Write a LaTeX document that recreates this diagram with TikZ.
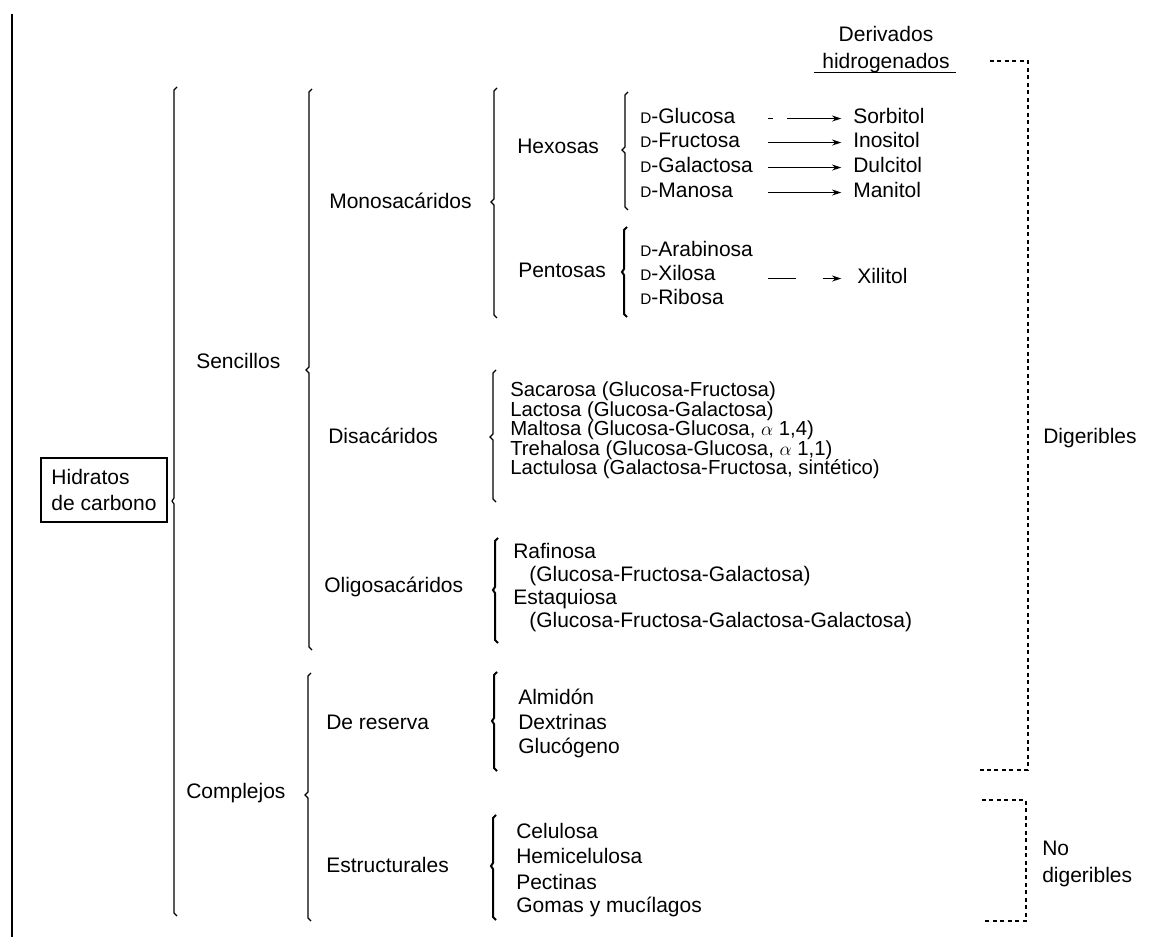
\documentclass[tikz,border=0pt]{standalone}
\usepackage{fontspec}
\setmainfont{Liberation Sans}
\usetikzlibrary{arrows.meta}
\newcommand{\smallD}{{\fontsize{11.5pt}{12pt}\selectfont D}}
\tikzset{
  txt/.style={anchor=base west, inner sep=0.75pt, text height=11.5pt, text depth=3.3pt, font=\fontsize{15.75pt}{19pt}\selectfont},
  disatxt/.style={txt, inner sep=0pt, text height=10.5pt, text depth=3pt, font=\fontsize{15.25pt}{18pt}\selectfont},
  brace/.style={line width=0.9pt},
  heavybrace/.style={line width=1.5pt},
  derivarrow/.style={line width=0.9pt, -{Stealth[length=7pt,width=4.5pt]}, shorten >=8pt},
  dashbrace/.style={line width=1.4pt, dash pattern=on 3pt off 2.6pt},
}
\begin{document}
\begin{tikzpicture}[x=0.75pt,y=0.75pt,yscale=-1,xscale=1]
\useasboundingbox (0,0) rectangle (1165,937);

%Straight Lines: page edge
\draw [line width=1.7pt] (12,14) -- (12,937);

%Shape: Brace (Hidratos de carbono)
\draw [brace] (177,87) -- (174,90) -- (174,498) -- (172,501) -- (174,504) -- (174,913) -- (177,916);
%Shape: Brace (Sencillos)
\draw [brace] (312,89) -- (309,92) -- (309,367) -- (306,370) -- (309,373) -- (309,647) -- (312,650);
%Shape: Brace (Complejos)
\draw [brace] (311,673) -- (308,676) -- (308,792) -- (305,795) -- (308,798) -- (308,918) -- (311,921);
%Shape: Brace (Monosacaridos)
\draw [brace] (497,88) -- (494,91) -- (494,199) -- (491,202) -- (494,205) -- (494,315) -- (497,318);
%Shape: Brace (Hexosas)
\draw [brace] (628,92) -- (625,95) -- (625,147) -- (622,150) -- (625,153) -- (625,207) -- (628,210);
%Shape: Brace (Pentosas)
\draw [heavybrace] (627,227) -- (624,230) -- (624,269) -- (622,272) -- (624,275) -- (624,314) -- (627,317);
%Shape: Brace (Disacaridos)
\draw [brace] (496,370) -- (493,373) -- (493,434) -- (490,437) -- (493,440) -- (493,499) -- (496,502);
%Shape: Brace (Oligosacaridos)
\draw [heavybrace] (498,538) -- (495,541) -- (495,587) -- (493,590) -- (495,593) -- (495,640) -- (498,643);
%Shape: Brace (De reserva)
\draw [heavybrace] (497,672) -- (494,675) -- (494,718) -- (492,721) -- (494,724) -- (494,768) -- (497,771);
%Shape: Brace (Estructurales)
\draw [heavybrace] (496,815) -- (493,818) -- (493,863) -- (491,866) -- (493,869) -- (493,917) -- (496,920);

%Shape: Dashed bracket (Digeribles)
\draw [dashbrace] (990,61) -- (1028,61) -- (1028,770) -- (980,770);
%Shape: Dashed bracket (No digeribles)
\draw [dashbrace] (982,800) -- (1026,800) -- (1026,921) -- (982,921);

% Text Node
\node [draw, line width=1pt, align=left, inner sep=0.75pt, minimum width=94.5pt, minimum height=48pt, font=\fontsize{15.75pt}{19.5pt}\selectfont] (hc) at (104,490) {Hidratos\\de carbono};
% Text Node
\node [txt] (senc) at (195,369) {Sencillos};
\node [txt] (compl) at (185,799) {Complejos};
% Text Node
\node [txt] (mono) at (328,209) {Monosacáridos};
\node [txt] (disa) at (327,444) {Disacáridos};
\node [txt] (oligo) at (323,593) {Oligosacáridos};
\node [txt] (reser) at (325,730) {De reserva};
\node [txt] (estru) at (325,873) {Estructurales};
% Text Node
\node [txt] (hexo) at (516,154) {Hexosas};
\node [txt] (pento) at (517,278) {Pentosas};
% Text Node
\node [txt] (glu) at (639,124) {\smallD-Glucosa};
\node [txt] (fru) at (639,148) {\smallD-Fructosa};
\node [txt] (gal) at (639,173) {\smallD-Galactosa};
\node [txt] (man) at (639,198) {\smallD-Manosa};
\node [txt] (ara) at (639,257) {\smallD-Arabinosa};
\node [txt] (xil) at (639,281) {\smallD-Xilosa};
\node [txt] (rib) at (639,305) {\smallD-Ribosa};
% Text Node
\node [txt, anchor=base] (derv) at (886,42) {Derivados};
\node [txt, anchor=base] (hidr) at (886,69) {hidrogenados};
\node [txt] (sor) at (852,124) {Sorbitol};
\node [txt] (ino) at (852,148) {Inositol};
\node [txt] (dul) at (852,173) {Dulcitol};
\node [txt] (mani) at (852,198) {Manitol};
\node [txt] (xit) at (856,284) {Xilitol};
% Text Node
\node [disatxt] (sac) at (510,397) {Sacarosa (Glucosa-Fructosa)};
\node [disatxt] (lac) at (510,416.5) {Lactosa (Glucosa-Galactosa)};
\node [disatxt] (mal) at (510,436) {Maltosa (Glucosa-Glucosa, $\alpha$ 1,4)};
\node [disatxt] (tre) at (510,455.5) {Trehalosa (Glucosa-Glucosa, $\alpha$ 1,1)};
\node [disatxt] (lacu) at (510,475) {Lactulosa (Galactosa-Fructosa, sintético)};
% Text Node
\node [txt] (raf) at (512,559) {Rafinosa};
\node [txt] (rafc) at (528,582) {(Glucosa-Fructosa-Galactosa)};
\node [txt] (esta) at (512,605) {Estaquiosa};
\node [txt] (estc) at (528,628) {(Glucosa-Fructosa-Galactosa-Galactosa)};
% Text Node
\node [txt] (alm) at (517,705) {Almidón};
\node [txt] (dex) at (517,730) {Dextrinas};
\node [txt] (glg) at (517,754) {Glucógeno};
% Text Node
\node [txt] (cel) at (515,839) {Celulosa};
\node [txt] (hem) at (515,864) {Hemicelulosa};
\node [txt] (pec) at (515,889) {Pectinas};
\node [txt] (gom) at (515,912) {Gomas y mucílagos};
% Text Node
\node [txt] (dig) at (1042,444) {Digeribles};
\node [txt] (nodg) at (1041,855) {No};
\node [txt] (nodg2) at (1041,882) {digeribles};

%Straight Lines: underline
\draw [line width=0.9pt] ([xshift=-5pt,yshift=-1.5pt]hidr.south west) -- ([xshift=4pt,yshift=-1.5pt]hidr.south east);

%Straight Lines: arrows
\coordinate (arrx) at (768,0);
\draw [derivarrow, dash pattern=on 3.75pt off 10.5pt on 100pt] (glu.east -| arrx) -- (sor.west);
\draw [derivarrow] (fru.east -| arrx) -- (ino.west);
\draw [derivarrow] (gal.east -| arrx) -- (dul.west);
\draw [derivarrow] (man.east -| arrx) -- (mani.west);
\draw [derivarrow, dash pattern=on 21pt off 20pt on 30pt, shorten >=11pt] (xit.west -| arrx) -- (xit.west);

\end{tikzpicture}
\end{document}
